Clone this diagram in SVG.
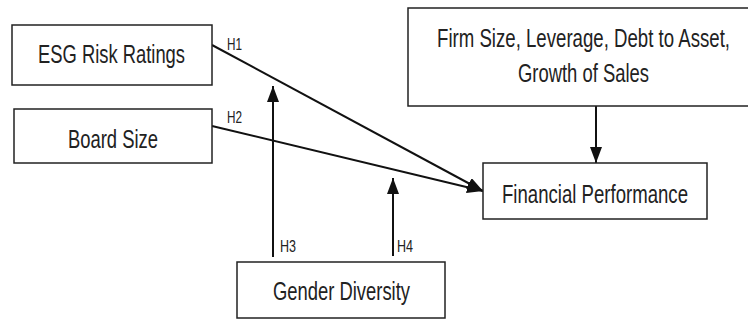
<svg xmlns="http://www.w3.org/2000/svg" width="748" height="320" viewBox="0 0 748 320">
<style>
.box{fill:#fff;stroke:#222;stroke-width:1.5}
.t{font-family:"Liberation Sans",Arial,sans-serif;fill:#222;text-anchor:middle}
.lb{font-family:"Liberation Sans",Arial,sans-serif;fill:#222;font-size:16px}
.c{stroke:#111;stroke-width:2;fill:none}
</style>
<defs>
<marker id="ah" viewBox="0 0 16 12" refX="16" refY="6" markerWidth="16" markerHeight="12" markerUnits="userSpaceOnUse" orient="auto">
<path d="M0,0 L16,6 L0,12 Z" fill="#111"/>
</marker>
</defs>
<rect width="748" height="320" fill="#fff"/>
<g id="connectors">
<line class="c" x1="212" y1="45" x2="483" y2="191" marker-end="url(#ah)"/>
<line class="c" x1="212" y1="126" x2="483" y2="191" marker-end="url(#ah)"/>
<line class="c" x1="273" y1="257" x2="273" y2="86" marker-end="url(#ah)"/>
<line class="c" x1="393" y1="256" x2="393" y2="178" marker-end="url(#ah)"/>
<line class="c" x1="596" y1="106" x2="596" y2="163" marker-end="url(#ah)"/>
<text class="lb" x="227" y="50" textLength="15" lengthAdjust="spacingAndGlyphs">H1</text>
<text class="lb" x="227" y="123" textLength="15" lengthAdjust="spacingAndGlyphs">H2</text>
<text class="lb" x="280" y="252" textLength="16" lengthAdjust="spacingAndGlyphs">H3</text>
<text class="lb" x="397" y="252" textLength="16" lengthAdjust="spacingAndGlyphs">H4</text>
</g>
<g id="esg">
<rect class="box" x="12" y="25" width="200" height="60"/>
<text class="t" x="111.5" y="63" font-size="25" textLength="147" lengthAdjust="spacingAndGlyphs">ESG Risk Ratings</text>
</g>
<g id="board">
<rect class="box" x="14" y="109" width="198" height="54"/>
<text class="t" x="113" y="148" font-size="25" textLength="90" lengthAdjust="spacingAndGlyphs">Board Size</text>
</g>
<g id="controls">
<rect class="box" x="408" y="8" width="352" height="98"/>
<text class="t" x="583.5" y="47" font-size="25" textLength="293" lengthAdjust="spacingAndGlyphs">Firm Size, Leverage, Debt to Asset,</text>
<text class="t" x="583.5" y="82" font-size="25" textLength="131" lengthAdjust="spacingAndGlyphs">Growth of Sales</text>
</g>
<g id="financial">
<rect class="box" x="483" y="163" width="224" height="56"/>
<text class="t" x="595" y="203" font-size="26" textLength="186" lengthAdjust="spacingAndGlyphs">Financial Performance</text>
</g>
<g id="gender">
<rect class="box" x="237" y="262" width="208" height="56"/>
<text class="t" x="341.5" y="300" font-size="25" textLength="137" lengthAdjust="spacingAndGlyphs">Gender Diversity</text>
</g>
</svg>
